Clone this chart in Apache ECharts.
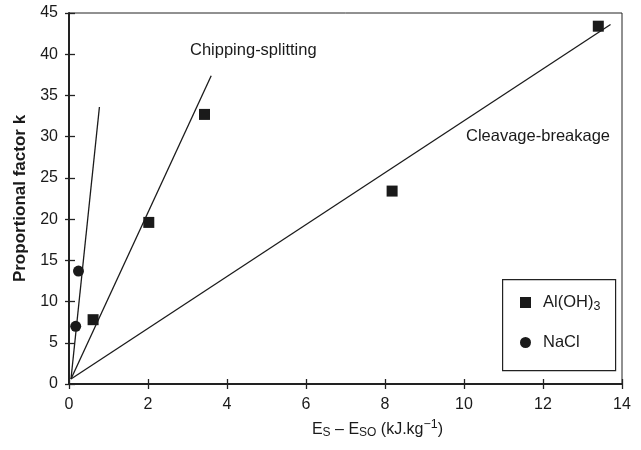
<!DOCTYPE html>
<html>
<head>
<meta charset="utf-8">
<script src="https://cdn.jsdelivr.net/npm/echarts@6/dist/echarts.min.js"></script>
<style>
  html, body { margin: 0; padding: 0; background: #fff; }
  #chart { width: 641px; height: 450px; }
</style>
</head>
<body>
<div id="chart"></div>
<script>
// Axis ranges and ticks
const xTicks = [0, 2, 4, 6, 8, 10, 12, 14];
const yTicks = [0, 5, 10, 15, 20, 25, 30, 35, 40, 45];

// Measured points: [Es - Eso, k]
const aluminaPoints = [[0.61, 7.8], [2.02, 19.6], [3.43, 32.7], [8.18, 23.4], [13.4, 43.4]];
const saltPoints = [[0.17, 7.0], [0.24, 13.7]];

// Fitted trend lines (start, end)
const saltLine = [[0.05, 0.6], [0.77, 33.6]];
const chippingLine = [[0.05, 0.6], [3.6, 37.4]];
const cleavageLine = [[0.05, 0.6], [13.71, 43.6]];

const regimeLabels = ['Chipping-splitting', 'Cleavage-breakage'];

const FONT = "'Liberation Sans', Arial, sans-serif";
const INK = '#1a1a1a';

const chart = echarts.init(document.getElementById('chart'), null, { renderer: 'canvas' });

const lineStyle = { color: INK, width: 1.3 };
function trend(data) {
  return {
    type: 'line', data: data, symbol: 'none', silent: true,
    lineStyle: lineStyle, z: 2
  };
}

const baseAxis = {
  min: xTicks[0], max: xTicks[xTicks.length - 1], interval: xTicks[1] - xTicks[0]
};
const baseYAxis = {
  min: yTicks[0], max: yTicks[yTicks.length - 1], interval: yTicks[1] - yTicks[0]
};

chart.setOption({
  animation: false,
  backgroundColor: '#fff',
  textStyle: { fontFamily: FONT, color: INK },
  grid: {
    left: 69, right: 19, top: 13, bottom: 66,
    show: true, borderColor: '#222', borderWidth: 1, backgroundColor: 'transparent'
  },
  xAxis: [
    Object.assign({}, baseAxis, {
      type: 'value', position: 'bottom',
      axisLine: { show: true, onZero: false, lineStyle: { color: '#222', width: 2 } },
      axisTick: { show: true, inside: false, length: 5, lineStyle: { color: '#222', width: 1.3 } },
      axisLabel: { margin: 13, fontSize: 16, color: INK, fontFamily: FONT },
      splitLine: { show: false },
      name: 'E{sub|S} – E{sub|SO} (kJ.kg{sup|−1})',
      nameLocation: 'middle', nameGap: 32,
      nameTextStyle: {
        fontSize: 16, color: INK, fontFamily: FONT, padding: [0, 0, 0, 64],
        rich: {
          sub: { fontSize: 12, padding: [7, 0, 0, 0], color: INK, fontFamily: FONT },
          sup: { fontSize: 12.5, padding: [0, 0, 10, 0], color: INK, fontFamily: FONT }
        }
      }
    }),
    Object.assign({}, baseAxis, {
      type: 'value', position: 'bottom', gridIndex: 0,
      axisLine: { show: false },
      axisTick: { show: true, inside: true, length: 5, lineStyle: { color: '#222', width: 1.3 } },
      axisLabel: { show: false }, splitLine: { show: false }
    })
  ],
  yAxis: [
    Object.assign({}, baseYAxis, {
      type: 'value', position: 'left',
      axisLine: { show: true, onZero: false, lineStyle: { color: '#222', width: 2 } },
      axisTick: { show: true, inside: false, length: 4, lineStyle: { color: '#222', width: 1.3 } },
      axisLabel: { margin: 11, fontSize: 16, color: INK, fontFamily: FONT },
      splitLine: { show: false },
      name: 'Proportional factor k',
      nameLocation: 'middle', nameGap: 38,
      nameTextStyle: { fontSize: 17, fontWeight: 'bold', color: INK, fontFamily: FONT }
    }),
    Object.assign({}, baseYAxis, {
      type: 'value', position: 'left',
      axisLine: { show: false },
      axisTick: { show: true, inside: true, length: 6, lineStyle: { color: '#222', width: 1.3 } },
      axisLabel: { show: false }, splitLine: { show: false }
    })
  ],
  legend: [
    {
      data: [{ name: 'Al(OH)3', icon: 'rect' }],
      orient: 'vertical', left: 515, top: 289, z: 20,
      itemWidth: 11, itemHeight: 11,
      textStyle: {
        fontSize: 16.5, color: INK, fontFamily: FONT, padding: [0, 0, 0, 7],
        rich: {
          base: { fontSize: 16.5, color: INK, fontFamily: FONT },
          sub: { fontSize: 12.5, padding: [9, 0, 0, 0], color: INK, fontFamily: FONT }
        }
      },
      formatter: () => '{base|Al(OH)}{sub|3}',
      selectedMode: false
    },
    {
      data: [{ name: 'NaCl', icon: 'circle' }],
      orient: 'vertical', left: 515, top: 329, z: 20,
      itemWidth: 11, itemHeight: 11,
      textStyle: { fontSize: 16.5, color: INK, fontFamily: FONT, padding: [0, 0, 0, 7] },
      selectedMode: false
    }
  ],
  graphic: [
    {
      type: 'rect', left: 502, top: 279, silent: true, z: 1,
      shape: { width: 113, height: 91 },
      style: { fill: '#fff', stroke: '#222', lineWidth: 1.2 }
    },
    {
      type: 'text', left: 190, top: 42, silent: true,
      style: { text: regimeLabels[0], font: '16.5px ' + FONT, fill: INK }
    },
    {
      type: 'text', left: 466, top: 128, silent: true,
      style: { text: regimeLabels[1], font: '16.5px ' + FONT, fill: INK }
    }
  ],
  series: [
    trend(saltLine),
    trend(chippingLine),
    trend(cleavageLine),
    {
      name: 'Al(OH)3', type: 'scatter', data: aluminaPoints,
      symbol: 'rect', symbolSize: 11, itemStyle: { color: INK, opacity: 1 }, z: 3
    },
    {
      name: 'NaCl', type: 'scatter', data: saltPoints,
      symbol: 'circle', symbolSize: 11, itemStyle: { color: INK, opacity: 1 }, z: 3
    }
  ]
});
</script>
</body>
</html>
